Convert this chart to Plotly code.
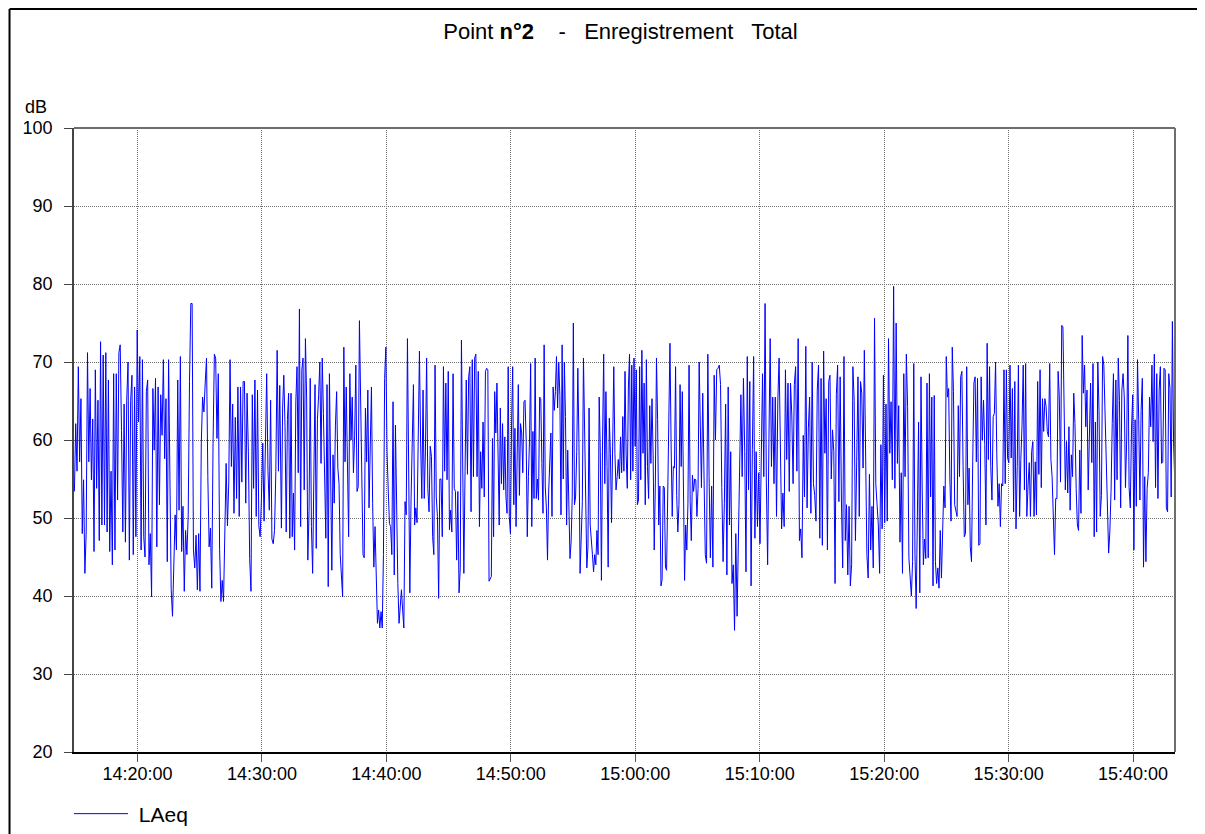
import pandas as pd
import plotly.graph_objects as go

DAY = "2020-01-01 "

# LAeq values (dB), in five consecutive time segments
seg1_vals = [53.4, 62.1, 56, 69.4, 57.2, 65.3, 48, 54.9, 42.9, 48.2, 71.2, 57.2, 66.6, 54.9, 62.7, 45.7, 69, 53.8, 65.1, 47.1,
             72.6, 49.1, 70.9, 49.1, 71.2, 48.2, 67.7, 45.7, 56, 44, 68.5, 45.9, 68.5, 52.3, 71.2, 72.2, 61.2, 48.2, 64.6, 46.9,
             65.1, 70, 44.6, 65.1, 68.3, 45.3, 66.8, 47.6, 74.1, 62.3, 70.7, 45.9, 70.3, 47.6, 45, 66.2, 67.7, 44, 48, 39.9,
             66.6, 58.7, 67.9, 46.3, 66.8, 51.7, 65.8, 60.6, 70.3, 57.6, 65.3, 44.4, 70.3, 51, 40.8, 37.4, 44.4, 50.4, 45.9, 67.7,
             51, 70.7, 45.7, 51.5, 40.6, 48.4, 45.3, 50.4, 67.5, 77.5, 77.5, 45.9, 43.6, 47.8, 40.8, 48, 40.6, 59.6, 65.5, 63.6,
             67.3, 70.5, 55.3, 46.3, 48.7, 41, 59.6, 71, 70.5, 60.2, 68.5, 46, 39.3, 42, 39.3, 48, 57, 49, 54.5, 70.3,
             56.6, 64.6, 50.6, 62.9, 52.5, 66.8, 50.2, 66.8, 54.6, 67.5, 67.5, 51.9, 66, 58.5, 44.8, 40.6, 65.8, 53.8, 67.7, 50.2,
             66.4, 49, 47.6, 52.5, 59.6, 49.6, 59.4, 68.5, 56, 51, 65.1, 47.3, 46.7, 48.4, 56, 71.5, 56, 67]
seg2_vals = [48.7, 64.1, 68.3, 61.7, 48.2, 62.6, 66, 47.4, 66, 47.6, 53.2, 45.9, 64.9, 69.4, 55.8, 76.8, 48.9, 69, 70.5, 53.6,
             73, 65.5, 44.6, 50.8, 67.9, 48.9, 42.9, 60, 67.1, 46.1, 62.6, 65.8, 70, 57, 70.5, 63.4, 54, 47.4, 67.1, 41.2,
             68.5, 55.8, 43.3, 58.1, 51.9, 61.9, 66.2, 56.4, 54.4, 45.3, 42, 39.9, 71.9, 57.2, 66.8, 57.2, 47.6, 68.5, 60, 65.5,
             55.8, 60.4, 69.6, 53.4, 54, 75.3, 64.6, 56, 45.3, 44.9, 64.1, 57.2, 66.4, 51.3, 59.4, 66.8, 51.9, 43.7, 48.9, 40.6,
             36.5, 38.2, 35.9, 38, 35.9, 45.3, 67.9, 71.9, 58.5, 53.6, 49.3, 48.9, 45.3, 64.9, 42.7, 61.9, 48, 41.6, 36.5, 39,
             40.8, 38.2, 35.9, 52.1, 50.4, 73, 54.7, 40.4, 52.3, 60, 67.1, 49.1, 51.3, 49.4, 64.6, 71.4, 59.6, 52.5, 66.4, 52.5,
             58.7, 70.5, 53.8, 50.8, 59.2, 57.9, 47.6, 45.3, 69.6, 52.7, 50.2, 39.7, 55, 55, 47.6, 69.4, 56, 67.3, 54.9, 68.8,
             48.5, 51, 48.2, 68.5, 53.8, 53.4, 44.6, 53.4, 40.4, 43.6, 72.8, 51.9, 42.9, 56, 67.7, 55.6, 68.1, 69.4, 50.8, 70.3,
             55.3, 70.5, 71, 55.3, 68.8, 48.9, 58.5, 53.8, 62.3, 52.7, 68.8, 69.2, 69, 41.9]
seg3_vals = [42.5, 60.2, 47.6, 66.2, 60.9, 67.3, 57.9, 49.1, 64.1, 54.4, 62.1, 53.6, 60.4, 52.7, 50.6, 69.4, 50.2, 48, 61.9, 69.4,
             51.7, 61.5, 48.9, 60.2, 67.1, 52.9, 62.1, 60.9, 55.8, 64.9, 65.1, 60, 47.6, 55.3, 60, 69.8, 48.9, 61.1, 52.5, 70.5,
             52.5, 55, 52.3, 65.5, 65.3, 57, 50.6, 72.2, 54, 51.3, 44.6, 53.2, 56.6, 60.9, 50.2, 66.8, 63.8, 66.2, 70.7, 64.1,
             70, 65.7, 50.4, 72.2, 55, 70, 63, 49.1, 58.7, 52.5, 44.8, 46.9, 52.7, 75, 51.7, 52.7, 58.5, 69.2, 59.6, 42.9,
             48, 52.1, 70.5, 60.4, 52.3, 43.6, 46.3, 64.1, 49.1, 46.3, 45.3, 43.1, 45.3, 44, 48.4, 45.3, 65.5, 58.5, 42, 60,
             71, 54.4, 66.2, 56.6, 43.7, 62.8, 58.3, 49.4, 58.7, 69.4, 58.3, 53.6, 55.3, 57.5, 55, 60.4, 55.8, 63, 56, 68.8,
             58.1, 53.8, 66.8, 71, 54.9, 69.6, 56, 70.5, 59.2, 69, 51.7, 52.3, 69.4, 54.9, 71.5, 58.3, 67.3, 51.7, 70.3, 56.6,
             52.5, 64.4, 57, 65.3, 58.1, 45.9, 54.6, 70.5, 62.6, 49.1, 54.1, 41.3, 42.1, 54.1, 53.9, 43.7, 43.3, 54.4, 59.2, 72.4,
             59.6, 50.2, 56.6, 56.4, 69.4, 52.9, 48.2, 51.7, 67.1, 56.6, 66.2, 53.2, 42, 49.1, 45.9, 51.9, 69.6, 52.1, 47.1, 55.5,
             53.4, 55, 54.9, 50.2, 53.8, 70]
seg4_vals = [53.9, 66, 54.4, 45.3, 44.2, 71, 55.3, 44.9, 54.1, 43.7, 68.3, 60, 69, 69.2, 69.6, 67.1, 53.9, 44.4, 51.9, 64.6,
             42.7, 66.8, 49.1, 58.5, 41.6, 44, 35.6, 48, 37.4, 48, 58.1, 65.8, 55.3, 67.9, 58.5, 43.1, 70.7, 53.6, 67.5, 41.3,
             58.8, 70.7, 47.4, 58.5, 48.9, 55.8, 46.7, 55.8, 68.5, 55.3, 77.5, 54.6, 44, 59.6, 73, 56.6, 65.5, 54.4, 65.5, 50.2,
             64.9, 70.5, 57, 48.6, 53.2, 48.9, 69, 57.5, 67.3, 53.4, 67.3, 63.2, 54.4, 67.1, 69.4, 56, 73, 47.1, 48.6, 44.9,
             60.6, 52.7, 72, 51.3, 61.5, 65.5, 50.6, 70, 54.4, 52.9, 49.6, 66.4, 69.6, 47.4, 67.9, 46.5, 71.4, 58.3, 65.3, 45.9,
             67.5, 68.3, 55, 61.3, 58.5, 41.6, 65.8, 69.6, 52.1, 68.1, 52.3, 43.6, 70.7, 47.1, 51.7, 42.7, 51.5, 41.3, 44, 69.4,
             65.1, 47.1, 57.2, 68.1, 50.2, 67.5, 66, 56.4, 71.5, 57.5, 45.3, 42.3, 55.6, 45.9, 51.5, 43.6, 75.6, 54.4, 52.3, 49.1,
             42.9, 59.4, 48.6, 68.3, 49.4, 64.6, 49.6, 73, 58.3, 64.9, 54.9, 79.7, 53.8, 75, 57, 64.4, 46.9, 55.8, 42.9, 68.5,
             55.3, 71, 64.3, 44.9]
seg5_vals = [40, 44.4, 69.8, 45.3, 38.4, 49.6, 62.3, 40.4, 68.1, 53.6, 44, 47.3, 44.8, 67.3, 44.9, 68.5, 52.7, 65.5, 41.3, 65.7,
             44.4, 41.6, 43.6, 41, 48.4, 42.3, 47.6, 54.1, 51.3, 70.7, 65.5, 66.6, 55, 49.6, 71.9, 66.2, 51.7, 50.8, 50.2, 64.4,
             55.3, 68.1, 68.8, 56.6, 47.6, 48, 69.4, 51.7, 56.4, 46.3, 44.4, 57.2, 67.3, 68.1, 57.2, 67.9, 46.5, 46.7, 68.1, 60,
             65.1, 59.4, 49.1, 72.4, 57.5, 69.4, 56.6, 52.3, 63, 63.4, 70, 58.3, 51.5, 54.4, 48.9, 54.4, 54.1, 69, 54.4, 69,
             57.7, 57.1, 69.6, 57.7, 66.6, 50.8, 67.5, 48.6, 56.6, 69.6, 50.2, 57.5, 61.9, 69.6, 53.6, 69.8, 50.2, 54.1, 57.1, 50.2,
             58.5, 59.8, 50.2, 57.2, 50.4, 67.5, 55.6, 69, 53.9, 65.3, 61.1, 65.3, 64.3, 61.1, 60.4, 69.8, 57.5, 55.3, 48.2, 45.3,
             52.5, 52.5, 68.8, 65.5, 54.6, 74.7, 74.5, 61.3, 53.6, 59.8, 53.2, 61.7, 51, 58.1, 55.3, 66, 62.1, 53.8, 49.1, 48.4,
             58.7, 50.6, 73.4, 66, 69.6, 61.7, 66.4, 53.6, 61.1, 67.3, 57.1, 69.8, 47.6, 62.3, 48.2, 70, 63.8, 50.2, 52.9, 70.7,
             69.6, 63.8, 59.6, 51.9, 45.5, 48.2, 53.4, 62.1, 68.5, 52.3, 67.7, 54.9, 70.5, 65.1, 51.3, 66.4, 68.5, 65.5, 53.9, 60,
             73.4, 53.9, 51.3, 61.3, 65.8, 45.9, 62.6, 51.5, 70.3, 62.6, 52.3, 63.8, 67.9, 43.7, 55.3, 44.4, 53.8, 55.8, 65.5, 61.7,
             69.6, 59.8, 71, 53.9, 68.5, 52.5, 66.4, 69.4, 57, 57.2, 69.2, 69, 51.3, 50.8, 68.5, 66.6, 52.7, 75.2, 59.6, 54.6]

# start / end time of each segment
seg_times = [("14:14:56", "14:31:26"), ("14:31:34", "14:48:15"), ("14:48:26", "15:05:08"),
             ("15:05:19", "15:21:59"), ("15:22:11", "15:43:21")]
segments = [seg1_vals, seg2_vals, seg3_vals, seg4_vals, seg5_vals]

x_range = ("14:14:54", "15:43:22")
y_ticks = [20, 30, 40, 50, 60, 70, 80, 90, 100]
series_name = " LAeq"
title_html = "Point <b>n°2</b>    -   Enregistrement   Total"
y_unit = "dB"

times, values = [], []
for (t0, t1), vals in zip(seg_times, segments):
    times.extend(pd.date_range(DAY + t0, DAY + t1, periods=len(vals)))
    values.extend(vals)

FONT = "Arial, Liberation Sans, sans-serif"

fig = go.Figure()
fig.add_trace(go.Scatter(x=times, y=values, mode="lines", name=series_name,
                         line=dict(color="#0000FF", width=1)))

# the page body adds an 8px offset; figure sized to fit the 1205x834 window
OFF = 8
W, H = 1205 - OFF, 834 - OFF
L, T = 73.5 - OFF, 128 - OFF
R = W - (1175 - OFF)
B = H - (752 - OFF)
pw, ph = W - L - R, H - T - B

def px_x(sx):
    return (sx - OFF - L) / pw

def px_y(sy):
    return (H - B - (sy - OFF)) / ph

grid = dict(showgrid=True, gridcolor="#6f6f6f", griddash="1px,1px", gridwidth=1)

fig.update_layout(
    width=W, height=H,
    margin=dict(l=L, r=R, t=T, b=B, pad=0, autoexpand=False),
    paper_bgcolor="white", plot_bgcolor="white",
    font=dict(family=FONT, size=18, color="black"),
    title=dict(text=title_html, x=(620.5 - OFF) / W, xref="container", xanchor="center",
               y=1 - (31.5 - OFF) / H, yref="container", yanchor="middle",
               font=dict(family=FONT, size=22, color="black")),
    showlegend=True,
    legend=dict(orientation="h", x=(69 - OFF) / W, xref="container", xanchor="left",
                y=1 - (814 - OFF) / H, yref="container", yanchor="middle",
                font=dict(family=FONT, size=21, color="black"), itemwidth=54,
                bgcolor="rgba(0,0,0,0)"),
    xaxis=dict(type="date", range=[DAY + x_range[0], DAY + x_range[1]],
               tick0=DAY + "14:20:00", dtick=600000, tickformat="%H:%M:%S",
               ticks="outside", ticklen=8, tickcolor="#555555", tickwidth=1,
               showline=True, linecolor="black", linewidth=1.5,
               zeroline=False, ticklabelstandoff=-3,
               tickfont=dict(family=FONT, size=18, color="black"),
               **grid),
    yaxis=dict(range=[20, 100], tickvals=y_ticks, ticks="outside", ticklen=8,
               tickcolor="#444444", tickwidth=1, showline=True, linecolor="#444444",
               linewidth=1.5, zeroline=False, ticklabelstandoff=8,
               tickfont=dict(family=FONT, size=18, color="black"), **grid),
)

# plot frame (top and right borders)
fig.add_shape(type="line", xref="paper", yref="paper", x0=0, x1=1, y0=1, y1=1,
              line=dict(color="#6e6e6e", width=2))
fig.add_shape(type="line", xref="paper", yref="paper", x0=1, x1=1, y0=0, y1=1,
              line=dict(color="#6e6e6e", width=2))
# outer frame (left and top)
fig.add_shape(type="line", xref="paper", yref="paper", x0=px_x(9), x1=px_x(9), y0=px_y(9), y1=px_y(834),
              line=dict(color="black", width=2))
fig.add_shape(type="line", xref="paper", yref="paper", x0=px_x(9), x1=px_x(1205), y0=px_y(9), y1=px_y(9),
              line=dict(color="black", width=2))

fig.add_annotation(text=y_unit, xref="paper", yref="paper", x=px_x(35), y=px_y(107),
                   xanchor="center", yanchor="middle", showarrow=False,
                   font=dict(family=FONT, size=18, color="black"))

fig.write_html("out.html")
